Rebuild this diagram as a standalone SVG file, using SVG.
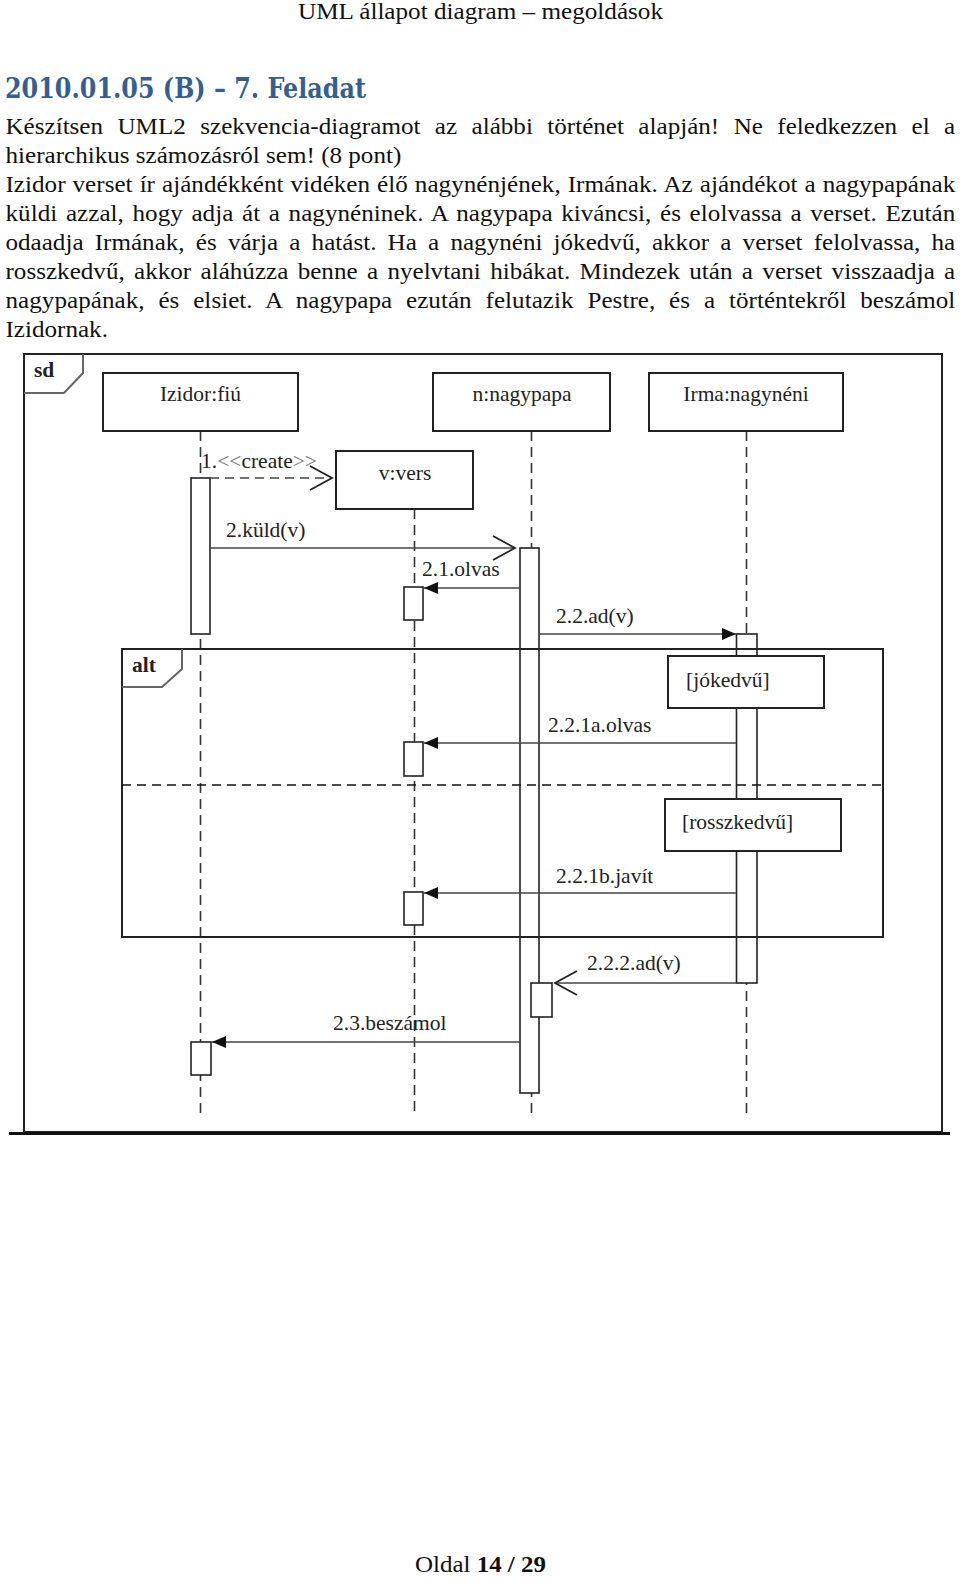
<svg xmlns="http://www.w3.org/2000/svg" width="960" height="1584" viewBox="0 0 960 1584">
<defs>
<style>
.serif{font-family:"Liberation Serif","Times New Roman",serif;fill:#111}
.body{font-size:24px}
.lbl{font-size:21.5px;fill:#222}
.box{fill:#fff;stroke:#222;stroke-width:2}
.act{fill:#fff;stroke:#222;stroke-width:1.6}
.life{stroke:#333;stroke-width:1.6;stroke-dasharray:10 6;fill:none}
.msg{stroke:#444;stroke-width:1.6;fill:none}
.frame{fill:none;stroke:#222;stroke-width:2}
.tab{fill:none;stroke:#666;stroke-width:2}
</style>
<marker id="filled" markerWidth="16" markerHeight="14" refX="14" refY="6" orient="auto" markerUnits="userSpaceOnUse">
<path d="M0,0 L14,6 L0,12 Z" fill="#111"/>
</marker>
<marker id="open" markerWidth="26" markerHeight="30" refX="23" refY="13" orient="auto" markerUnits="userSpaceOnUse">
<path d="M1,1 L23,13 L1,25" fill="none" stroke="#222" stroke-width="1.8"/>
</marker>
</defs>
<rect x="0" y="0" width="960" height="1584" fill="#fff"/>

<g id="page-text">
<text class="serif" x="298" y="19" font-size="23" textLength="365" lengthAdjust="spacingAndGlyphs">UML állapot diagram – megoldások</text>
<text x="5" y="98" font-family="'DejaVu Serif','Liberation Serif',serif" font-weight="bold" font-size="28" fill="#365F91" textLength="361" lengthAdjust="spacingAndGlyphs">2010.01.05 (B) – 7. Feladat</text>
<g transform="translate(5.5,0) scale(1.046,1)">
<text class="serif body" x="0" y="134" word-spacing="7.8" textLength="908" lengthAdjust="spacing">Készítsen UML2 szekvencia-diagramot az alábbi történet alapján! Ne feledkezzen el a</text>
<text class="serif body" x="0" y="163">hierarchikus számozásról sem! (8 pont)</text>
<text class="serif body" x="0" y="192" word-spacing="0.7" textLength="908" lengthAdjust="spacing">Izidor verset ír ajándékként vidéken élő nagynénjének, Irmának. Az ajándékot a nagypapának</text>
<text class="serif body" x="0" y="221" word-spacing="2.2" textLength="908" lengthAdjust="spacing">küldi azzal, hogy adja át a nagynéninek. A nagypapa kiváncsi, és elolvassa a verset. Ezután</text>
<text class="serif body" x="0" y="250" word-spacing="4.7" textLength="908" lengthAdjust="spacing">odaadja Irmának, és várja a hatást. Ha a nagynéni jókedvű, akkor a verset felolvassa, ha</text>
<text class="serif body" x="0" y="279" word-spacing="2.9" textLength="908" lengthAdjust="spacing">rosszkedvű, akkor aláhúzza benne a nyelvtani hibákat. Mindezek után a verset visszaadja a</text>
<text class="serif body" x="0" y="308" word-spacing="7.2" textLength="908" lengthAdjust="spacing">nagypapának, és elsiet. A nagypapa ezután felutazik Pestre, és a történtekről beszámol</text>
<text class="serif body" x="0" y="337">Izidornak.</text>
</g>
<text class="serif" x="415" y="1572" font-size="23" textLength="131" lengthAdjust="spacingAndGlyphs">Oldal <tspan font-weight="bold">14 / 29</tspan></text>
</g>

<g id="sd-frame">
<rect class="frame" x="24" y="354" width="918" height="778"/>
<polyline class="tab" points="24,393 64,393 83,373 83,354"/>
<text class="serif lbl" x="34" y="377" font-weight="bold">sd</text>
<line x1="9" y1="1133.5" x2="950" y2="1133.5" stroke="#111" stroke-width="3"/>
</g>

<g id="lifelines">
<line class="life" x1="200.5" y1="431" x2="200.5" y2="1113"/>
<line class="life" x1="414.5" y1="509" x2="414.5" y2="1113"/>
<line class="life" x1="531.5" y1="431" x2="531.5" y2="1113"/>
<line class="life" x1="746.5" y1="431" x2="746.5" y2="1113"/>
</g>

<g id="node-izidor">
<rect class="box" x="103" y="373" width="195" height="58"/>
<text class="serif lbl" x="200.5" y="401" text-anchor="middle">Izidor:fiú</text>
</g>
<g id="node-nagypapa">
<rect class="box" x="433" y="373" width="177" height="58"/>
<text class="serif lbl" x="522" y="401" text-anchor="middle">n:nagypapa</text>
</g>
<g id="node-irma">
<rect class="box" x="649" y="373" width="194" height="58"/>
<text class="serif lbl" x="746" y="401" text-anchor="middle">Irma:nagynéni</text>
</g>
<g id="node-vers">
<rect class="box" x="336" y="451" width="137" height="58"/>
<text class="serif lbl" x="405" y="480" text-anchor="middle">v:vers</text>
</g>

<g id="activations">
<rect class="act" x="191" y="478" width="19" height="156"/>
<rect class="act" x="520" y="548" width="19" height="545"/>
<rect class="act" x="404" y="587" width="19" height="33"/>
<rect class="act" x="736.5" y="634" width="20.5" height="349"/>
<rect class="act" x="404" y="742" width="19" height="34"/>
<rect class="act" x="404" y="892" width="19" height="33"/>
<rect class="act" x="531" y="983" width="21" height="34"/>
<rect class="act" x="191" y="1042" width="20" height="33"/>
</g>

<g id="alt-fragment">
<rect class="frame" x="122" y="649" width="761" height="288"/>
<polyline class="tab" points="122,687 162,687 182,669 182,649"/>
<text class="serif lbl" x="132" y="672" font-weight="bold">alt</text>
<line x1="122" y1="785" x2="883" y2="785" stroke="#111" stroke-width="1.6" stroke-dasharray="9 6"/>
</g>
<g id="guard-jokedvu">
<rect class="box" x="668" y="656" width="156" height="52"/>
<text class="serif lbl" x="686" y="687">[jókedvű]</text>
</g>
<g id="guard-rosszkedvu">
<rect class="box" x="665" y="799" width="176" height="52"/>
<text class="serif lbl" x="682" y="829">[rosszkedvű]</text>
</g>

<g id="connectors">
<line class="msg" x1="210" y1="478" x2="332" y2="478" stroke-dasharray="9 6" marker-end="url(#open)"/>
<line class="msg" x1="210" y1="548" x2="515" y2="548" marker-end="url(#open)"/>
<line class="msg" x1="520" y1="588" x2="424" y2="588" marker-end="url(#filled)"/>
<line class="msg" x1="539" y1="634" x2="736" y2="634" marker-end="url(#filled)"/>
<line class="msg" x1="736" y1="743" x2="424" y2="743" marker-end="url(#filled)"/>
<line class="msg" x1="736" y1="893" x2="424" y2="893" marker-end="url(#filled)"/>
<line class="msg" x1="736" y1="983" x2="555" y2="983" marker-end="url(#open)"/>
<line class="msg" x1="520" y1="1042" x2="212" y2="1042" marker-end="url(#filled)"/>
</g>

<g id="connector-labels">
<text class="serif lbl" x="201" y="468">1.<tspan fill="#777">&lt;&lt;</tspan>create<tspan fill="#777">&gt;&gt;</tspan></text>
<text class="serif lbl" x="226" y="537">2.küld(v)</text>
<text class="serif lbl" x="422" y="576">2.1.olvas</text>
<text class="serif lbl" x="556" y="623">2.2.ad(v)</text>
<text class="serif lbl" x="548" y="732">2.2.1a.olvas</text>
<text class="serif lbl" x="556" y="883">2.2.1b.javít</text>
<text class="serif lbl" x="587" y="970">2.2.2.ad(v)</text>
<text class="serif lbl" x="333" y="1030">2.3.beszámol</text>
</g>
</svg>
